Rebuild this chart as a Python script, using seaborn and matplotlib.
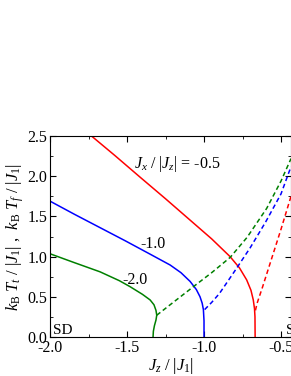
import numpy as np
import pandas as pd
import matplotlib
matplotlib.use('Agg')
import matplotlib.pyplot as plt
from matplotlib.ticker import MultipleLocator, FormatStrFormatter
import seaborn as sns

# solid lines (T_t) and dashed lines (T_f) for each Jx/|Jz|
red_solid_x = [-1.73, -1.58, -1.416, -1.25, -1.091, -0.95, -0.831, -0.77, -0.723, -0.695, -0.68, -0.672, -0.669, -0.668]
red_solid_y = [2.50, 2.26, 1.99, 1.72, 1.455, 1.22, 1.00, 0.86, 0.71, 0.58, 0.46, 0.35, 0.25, 0.0]
red_dash_x = [-0.666, -0.655, -0.62, -0.58, -0.55, -0.50, -0.435]
red_dash_y = [0.33, 0.42, 0.62, 0.86, 1.04, 1.34, 1.75]

blue_solid_x = [-2.0, -1.84, -1.675, -1.51, -1.35, -1.22, -1.15, -1.09, -1.05, -1.026, -1.012, -1.004, -1.0, -1.0]
blue_solid_y = [1.69, 1.525, 1.36, 1.195, 1.03, 0.895, 0.80, 0.69, 0.59, 0.50, 0.42, 0.34, 0.20, 0.0]
blue_dash_x = [-0.996, -0.95, -0.90, -0.85, -0.79, -0.70, -0.60, -0.50, -0.435]
blue_dash_y = [0.34, 0.43, 0.54, 0.68, 0.85, 1.11, 1.43, 1.78, 2.12]

green_solid_x = [-2.0, -1.85, -1.675, -1.55, -1.48, -1.40, -1.35, -1.325, -1.312, -1.307, -1.312, -1.322, -1.329, -1.331]
green_solid_y = [1.035, 0.93, 0.81, 0.70, 0.625, 0.53, 0.46, 0.40, 0.33, 0.27, 0.21, 0.14, 0.07, 0.0]
green_dash_x = [-1.307, -1.2, -1.059, -0.95, -0.83, -0.72, -0.593, -0.50, -0.435]
green_dash_y = [0.27, 0.43, 0.64, 0.80, 0.99, 1.24, 1.60, 1.94, 2.22]

labels = ['$J_x\\ /\\ |J_z|$ = -0.5', '-1.0', '-2.0']
phase_labels = ['SD', 'SF']

plt.rcParams['mathtext.fontset'] = 'custom'
plt.rcParams['mathtext.rm'] = 'Liberation Serif'
plt.rcParams['mathtext.it'] = 'Liberation Serif:italic'
plt.rcParams['font.family'] = ['Liberation Serif', 'DejaVu Serif']

fig = plt.figure(figsize=(2.91, 3.76), dpi=100)
ax = fig.add_axes([0.172, 0.104, 0.828, 0.534])

curves = [
    (red_solid_x, red_solid_y, 'red', '-'),
    (red_dash_x, red_dash_y, 'red', '--'),
    (blue_solid_x, blue_solid_y, 'blue', '-'),
    (blue_dash_x, blue_dash_y, 'blue', '--'),
    (green_solid_x, green_solid_y, 'green', '-'),
    (green_dash_x, green_dash_y, 'green', '--'),
]
for xs, ys, c, ls in curves:
    df = pd.DataFrame({'x': xs, 'y': ys})
    # estimator=None so repeated x values (vertical parts) are not averaged
    sns.lineplot(data=df, x='x', y='y', sort=False, estimator=None,
                 color=c, lw=1.1, ax=ax)
    if ls == '--':
        ax.lines[-1].set_dashes([3, 2])

ax.set_xlim(-2.0, -0.435)
ax.set_ylim(0.0, 2.5)
ax.xaxis.set_major_locator(MultipleLocator(0.5))
ax.xaxis.set_minor_locator(MultipleLocator(0.25))
ax.yaxis.set_major_locator(MultipleLocator(0.5))
ax.yaxis.set_minor_locator(MultipleLocator(0.25))
ax.xaxis.set_major_formatter(FormatStrFormatter('%.1f'))
ax.yaxis.set_major_formatter(FormatStrFormatter('%.1f'))
ax.tick_params(which='both', direction='in', top=True, right=True, labelsize=11.5, pad=2)
ax.tick_params(which='major', length=4)
ax.tick_params(which='minor', length=2)

ax.set_xlabel('$J_z\\ /\\ |J_1|$', fontsize=12, labelpad=0)
ax.set_ylabel('$k_{\\rm B}\\ T_t\\ /\\ |J_1|$ ,  $k_{\\rm B}\\ T_f\\ /\\ |J_1|$', fontsize=12, labelpad=1)

ax.text(-1.455, 2.10, labels[0], fontsize=11.5, va='baseline')
ax.text(-1.416, 1.107, labels[1], fontsize=11.5, va='baseline')
ax.text(-1.532, 0.66, labels[2], fontsize=11.5, va='baseline')
ax.text(-1.98, 0.03, phase_labels[0], fontsize=11, va='baseline')
ax.text(-0.468, 0.03, phase_labels[1], fontsize=11, va='baseline')

for s in ax.spines.values():
    s.set_linewidth(0.8)

fig.savefig('out.png', dpi=100)
